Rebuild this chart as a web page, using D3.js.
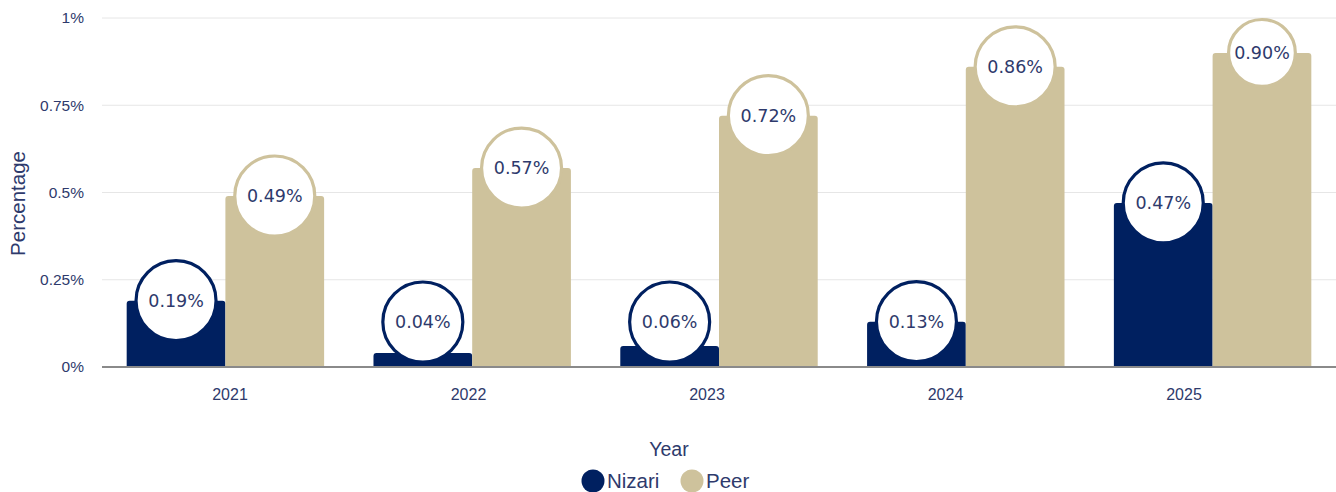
<!DOCTYPE html>
<html>
<head>
<meta charset="utf-8">
<script src="https://cdn.jsdelivr.net/npm/d3@7/dist/d3.min.js"></script>
<style>
  html, body { margin: 0; padding: 0; background: #fff; }
  svg { display: block; }
</style>
</head>
<body>
<svg id="chart" width="1336" height="492"></svg>
<script>
// Share of total, by year
const years = ["2021", "2022", "2023", "2024", "2025"];
const nizari = [0.19, 0.04, 0.06, 0.13, 0.47];
const peer = [0.49, 0.57, 0.72, 0.86, 0.90];
const seriesNames = ["Nizari", "Peer"];
const seriesColors = ["#002060", "#cec29c"];
const yTicks = [0, 0.25, 0.5, 0.75, 1];
const yTickLabels = ["0%", "0.25%", "0.5%", "0.75%", "1%"];

const series = [nizari, peer];
const rows = years.map((y, i) => ({ year: y, values: series.map((s, k) => ({ key: seriesNames[k], k, value: s[i] })) }));

const W = 1336, H = 492;
const margin = { left: 102, right: 0, top: 18, bottom: 125 };
const svg = d3.select("#chart");
const textColor = "#2e3a6c";
const sans = "Liberation Sans, Arial, sans-serif";

const x0 = d3.scaleBand().domain(years).range([margin.left, W - margin.right]).paddingInner(0.2).paddingOuter(0.1);
const x1 = d3.scaleBand().domain(seriesNames).range([0, x0.bandwidth()]).padding(0);
// category labels sit on their own, slightly narrower band
const xLab = d3.scaleBand().domain(years).range([110.75, 1303.25]).padding(0);
const y = d3.scaleLinear().domain([0, 1]).range([H - margin.bottom, margin.top]);

// gridlines
svg.append("g").selectAll("line").data(yTicks.filter(d => d > 0)).join("line")
  .attr("x1", margin.left).attr("x2", W - margin.right)
  .attr("y1", d => y(d)).attr("y2", d => y(d))
  .attr("stroke", "#e6e6e6").attr("stroke-width", 1);

// y axis labels
const yAxis = d3.axisLeft(y).tickValues(yTicks).tickFormat((d, i) => yTickLabels[i]).tickSize(0).tickPadding(18);
svg.append("g").attr("transform", `translate(${margin.left},0)`).call(yAxis)
  .call(g => g.select(".domain").remove())
  .call(g => g.selectAll("text").attr("fill", textColor).attr("font-family", sans).attr("font-size", 15.5));

// bars with rounded top corners
const r = 3;
function barPath(x, yTop, w, yBase) {
  const h = yBase - yTop;
  const rr = Math.min(r, h / 2, w / 2);
  return `M${x},${yBase}V${yTop + rr}Q${x},${yTop} ${x + rr},${yTop}H${x + w - rr}Q${x + w},${yTop} ${x + w},${yTop + rr}V${yBase}Z`;
}

const groups = svg.append("g").selectAll("g").data(rows).join("g")
  .attr("transform", d => `translate(${x0(d.year)},0)`);

groups.selectAll("path").data(d => d.values).join("path")
  .attr("d", d => barPath(x1(d.key), y(d.value), x1.bandwidth(), y(0)))
  .attr("fill", d => seriesColors[d.k]);

// baseline
svg.append("line").attr("x1", margin.left).attr("x2", W - margin.right)
  .attr("y1", y(0)).attr("y2", y(0)).attr("stroke", "#8a8a8a").attr("stroke-width", 2);

// x axis labels
const xAxis = d3.axisBottom(xLab).tickSize(0).tickPadding(22);
svg.append("g").attr("transform", `translate(0,${y(0)})`).call(xAxis)
  .call(g => g.select(".domain").remove())
  .call(g => g.selectAll("text").attr("fill", textColor).attr("font-family", sans).attr("font-size", 16));

// value bubbles: centred on the bar top, kept inside the plot area
const R = 40;
const labels = groups.selectAll("g.lbl").data(d => d.values).join("g").attr("class", "lbl")
  .each(function (d) {
    const cy = Math.min(y(d.value), y(0) - R - 5);
    d.cy = cy;
    d.r = Math.min(R, cy - y(1) - 1.5);
  })
  .attr("transform", d => `translate(${x1(d.key) + x1.bandwidth() / 2},${d.cy})`);
labels.append("circle").attr("r", d => d.r).attr("fill", "#fff")
  .attr("stroke", d => seriesColors[d.k]).attr("stroke-width", 3.2);
labels.append("text").attr("text-anchor", "middle").attr("dy", "0.35em")
  .attr("fill", textColor).attr("font-family", "DejaVu Sans, Verdana, sans-serif").attr("font-size", 17.5)
  .text(d => d.value.toFixed(2) + "%");

// axis titles
svg.append("text").attr("transform", `translate(25,${(y(0) + y(1)) / 2 + 11}) rotate(-90)`)
  .attr("text-anchor", "middle").attr("fill", textColor)
  .attr("font-family", sans).attr("font-size", 20.5).text("Percentage");
svg.append("text").attr("x", W / 2 + 1).attr("y", 456).attr("text-anchor", "middle")
  .attr("fill", textColor).attr("font-family", sans).attr("font-size", 19.5).text("Year");

// legend
const legend = svg.append("g").attr("transform", "translate(593,481)");
const items = legend.selectAll("g").data(seriesNames).join("g")
  .attr("transform", (d, i) => `translate(${i * 99},0)`);
items.append("circle").attr("r", 11.5).attr("fill", (d, i) => seriesColors[i]);
items.append("text").attr("x", 14).attr("dy", "0.35em").attr("fill", textColor)
  .attr("font-family", sans).attr("font-size", 20.5).text(d => d);
</script>
</body>
</html>
